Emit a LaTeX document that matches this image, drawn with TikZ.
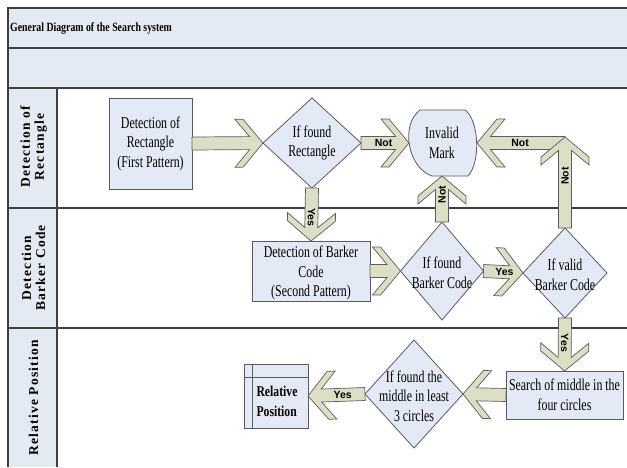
\documentclass[tikz,border=0pt]{standalone}
\usepackage{fontspec}
\setmainfont{Liberation Serif}
\newfontfamily\nodefont[FakeStretch=0.72]{Liberation Serif}
\newfontfamily\titlefont[FakeStretch=0.78]{Liberation Serif}
\newfontfamily\lanefont[LetterSpace=9]{Liberation Serif}
\newfontfamily\lblfont{Liberation Sans}
\usetikzlibrary{shapes.geometric,calc}
\definecolor{band}{HTML}{E4EAF4}
\definecolor{nodefill}{HTML}{E3E9F5}
\definecolor{arrfill}{HTML}{DCDEC6}
\definecolor{framec}{HTML}{3F3F3F}
\definecolor{nborder}{HTML}{5A5A66}
\tikzset{
  frameline/.style={draw=framec, line width=1.1pt},
  procbox/.style={rectangle, draw=nborder, fill=nodefill, line width=0.8pt, inner sep=0pt, outer sep=0pt},
  dia/.style={diamond, draw=nborder, fill=nodefill, line width=0.8pt, inner sep=0pt, outer sep=0pt},
  txt/.style={align=center, inner sep=0pt, font=\nodefont\fontsize{16.5}{19.5}\selectfont},
  lanelbl/.style={rotate=90, align=center, inner sep=0pt, font=\lanefont\bfseries\fontsize{13.5}{14}\selectfont},
  lbl/.style={inner sep=0pt, font=\lblfont\bfseries\fontsize{10.5}{11}\selectfont},
  blockarrow/.style={fill=arrfill, draw=framec!85, line width=0.7pt, line join=miter},
}
\newcommand\blockarr[2]{%
  \coordinate (ba-q) at ($(#2)!13.42pt!(#1)$);
  \coordinate (ba-a) at ($(#2)!28pt!(#1)$);
  \coordinate (ba-b) at ($(#2)!20pt!(#1)$);
  \draw[blockarrow] ($(#1)!6.5pt!90:(#2)$) -- ($(ba-q)!6.5pt!90:(#2)$)
    -- ($(ba-a)!24pt!90:(#2)$) -- ($(ba-b)!24pt!90:(#2)$) -- (#2)
    -- ($(ba-b)!24pt!-90:(#2)$) -- ($(ba-a)!24pt!-90:(#2)$)
    -- ($(ba-q)!6.5pt!-90:(#2)$) -- ($(#1)!6.5pt!-90:(#2)$) -- cycle;
}
\begin{document}
\begin{tikzpicture}[x=1pt,y=-1pt]
\useasboundingbox (0,0) rectangle (627,467);
\fill[white] (0,0) rectangle (627,467);
% bands
\fill[band] (8,8) rectangle (627,88);
\fill[band] (8,88) rectangle (57,467);
\draw[frameline] (627,8) -- (8,8) -- (8,467);
\draw[frameline] (8,48) -- (627,48);
\draw[frameline] (8,88) -- (627,88);
\draw[frameline] (8,208) -- (627,208);
\draw[frameline] (8,328) -- (627,328);
\draw[frameline] (57,88) -- (57,467);
\node[anchor=west, inner sep=0pt, font=\titlefont\bfseries\fontsize{12.6}{14}\selectfont] (title) at (10,28) {General Diagram of the Search system};
% lane labels
\node[lanelbl] (lane1) at (33.5,147) {Detection of\\Rectangle};
\node[lanelbl] (lane2) at (33.5,268) {Detection\\Barker Code};
\node[lanelbl] (lane3) at (33.5,398) {Relative Position};
% nodes
\node[procbox, minimum width=83pt, minimum height=91pt] (b1) at (150.5,143.5) {};
\node[txt] (b1t) at (b1) {Detection of\\Rectangle\\(First Pattern)};
\node[dia, minimum width=98pt, minimum height=90pt] (d1) at (312,143) {};
\node[txt] (d1t) at (d1) {If found\\Rectangle};
\coordinate (inv-w) at (409,143);
\coordinate (inv-e) at (477,143);
\coordinate (inv-s) at (442,176);
\draw[draw=nborder, fill=nodefill, line width=0.8pt] (420,110) -- (465,110)
  .. controls (479,120) and (481,162) .. (468,176) -- (432,176)
  .. controls (408,168) and (400,125) .. (420,110) -- cycle;
\node[txt] (inv) at (442,143) {Invalid\\Mark};
\node[procbox, minimum width=118pt, minimum height=60pt] (b2) at (311,271) {};
\node[txt] (b2t) at (311,273) {Detection of Barker\\Code\\(Second Pattern)};
\node[dia, minimum width=83pt, minimum height=98pt] (d2) at (442,271) {};
\node[txt] (d2t) at (442,273) {If found\\Barker Code};
\node[dia, minimum width=84pt, minimum height=90pt] (d3) at (565,273) {};
\node[txt] (d3t) at (565,275) {If valid\\Barker Code};
\node[procbox, minimum width=117pt, minimum height=48pt] (b3) at (564.5,395) {};
\node[txt] (b3t) at (b3) {Search of middle in the\\four circles};
\node[dia, minimum width=98pt, minimum height=108pt] (d4) at (414,394) {};
\node[txt] (d4t) at (414,396) {If found the\\middle in least\\3 circles};
\node[procbox, minimum width=64pt, minimum height=64pt] (rp) at (276,396) {};
\draw[draw=nborder, line width=0.8pt] ([xshift=8pt]rp.north west) -- ([xshift=8pt]rp.south west);
\draw[draw=nborder, line width=0.8pt] ([yshift=-13pt]rp.north west) -- ([yshift=-13pt]rp.north east);
\node[align=left, inner sep=0pt, font=\titlefont\bfseries\fontsize{15}{20}\selectfont] (rpt) at (277,401) {Relative\\Position};
% corner coordinates
\coordinate (cor-up) at (565,137);
\coordinate (cor) at (565,143);
% arrows
\blockarr{b1.east}{d1.west}
\blockarr{d1.east}{inv-w}
\blockarr{d1.south}{b2.north}
\blockarr{b2.east}{d2.west}
\blockarr{d2.north}{inv-s}
\blockarr{d2.east}{d3.west}
\blockarr{cor}{inv-e}
\blockarr{d3.north}{cor-up}
\blockarr{d3.south}{b3.north}
\blockarr{b3.west}{d4.east}
\blockarr{d4.west}{rp.east}
% arrow labels
\node[lbl] (l1) at ($(d1.east)!0.47!(inv-w)$) {Not};
\node[lbl, rotate=-90] (l2) at ($(d1.south)!0.55!(b2.north)$) {Yes};
\node[lbl, rotate=90] (l3) at ($(d2.north)!0.6!(inv-s)$) {Not};
\node[lbl] (l4) at ($(d2.east)!0.53!(d3.west)$) {Yes};
\node[lbl] (l5) at ($(cor)!0.51!(inv-e)$) {Not};
\node[lbl, rotate=90] (l6) at ($(d3.north)!0.57!(cor-up)$) {Not};
\node[lbl, rotate=-90] (l7) at ($(d3.south)!0.47!(b3.north)$) {Yes};
\node[lbl] (l8) at ($(d4.west)!0.39!(rp.east)$) {Yes};
\end{tikzpicture}
\end{document}
